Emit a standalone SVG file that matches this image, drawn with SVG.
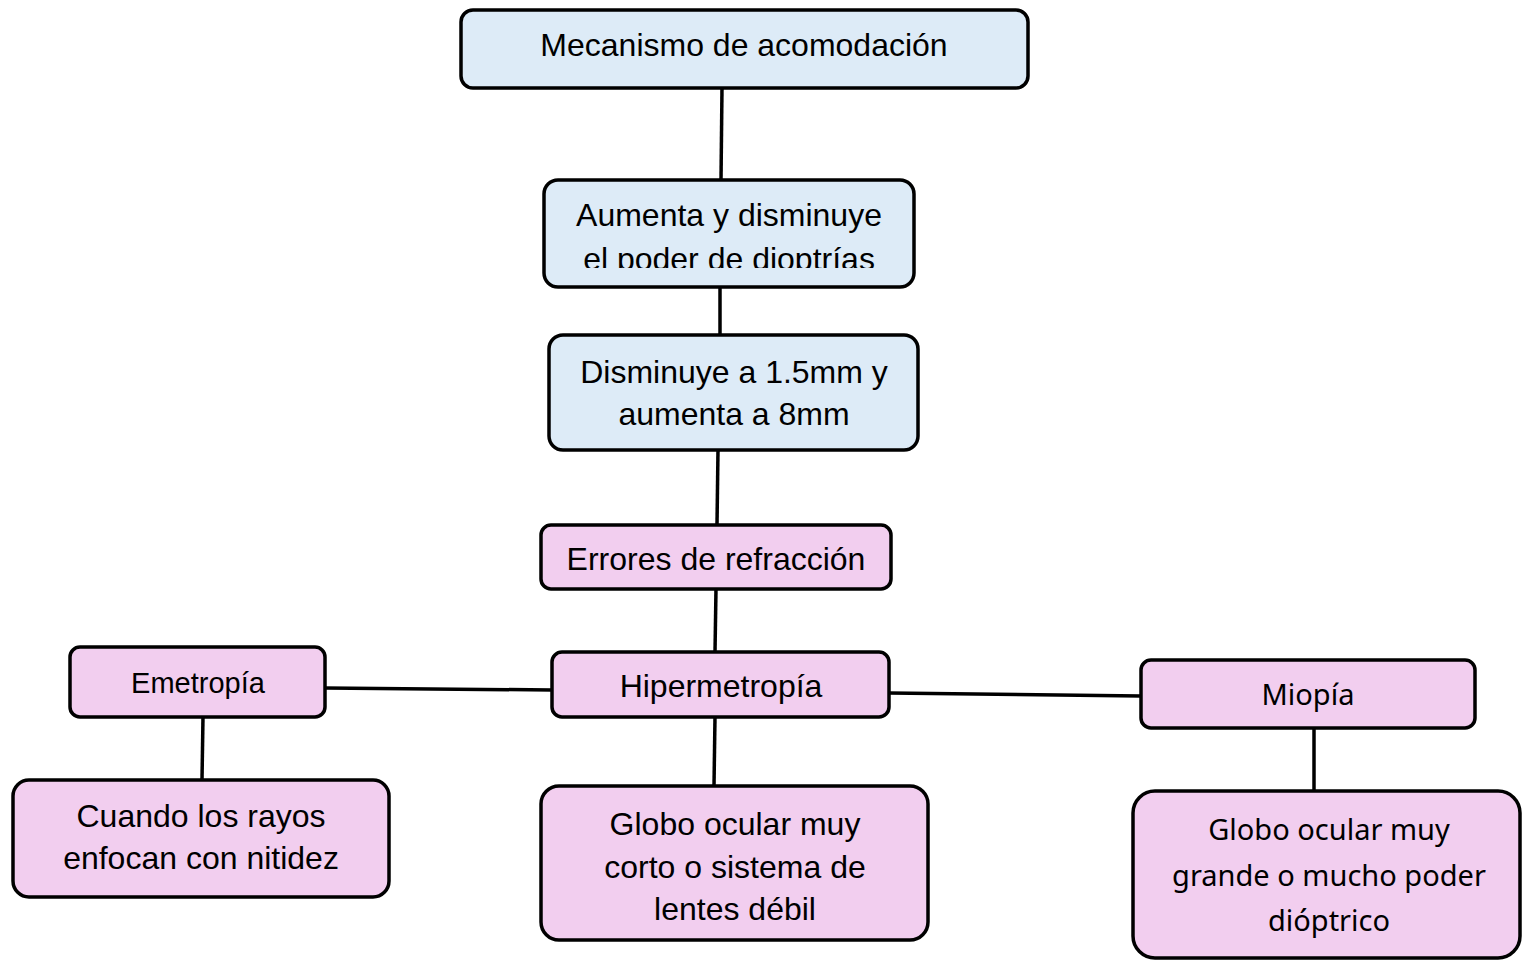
<svg xmlns="http://www.w3.org/2000/svg" width="1522" height="964" viewBox="0 0 1522 964">
<style>
.blue{fill:#DDEBF7;stroke:#000;stroke-width:3.5}
.pink{fill:#F2CEEF;stroke:#000;stroke-width:3.5}
.t{font-family:"Liberation Sans",Arial,sans-serif;font-size:32px;fill:#000;text-anchor:middle}
.s{font-family:"Liberation Sans",Arial,sans-serif;font-size:29px;fill:#000;text-anchor:middle}
.n{font-family:"Noto Sans","Open Sans",sans-serif;font-size:29px;fill:#000;text-anchor:middle}
.c{stroke:#000;stroke-width:3.5;fill:none}
</style>
<defs>
<clipPath id="clip2"><rect x="546" y="182" width="366" height="86"/></clipPath>
</defs>
<rect width="1522" height="964" fill="#fff"/>
<g id="connectors">
<line class="c" x1="722" y1="88" x2="721" y2="180"/>
<line class="c" x1="720" y1="287" x2="720" y2="335"/>
<line class="c" x1="718" y1="450" x2="717" y2="525"/>
<line class="c" x1="716" y1="589" x2="715" y2="652"/>
<line class="c" x1="325" y1="688" x2="552" y2="690"/>
<line class="c" x1="889" y1="693" x2="1141" y2="696"/>
<line class="c" x1="203" y1="717" x2="202" y2="780"/>
<line class="c" x1="715" y1="717" x2="714" y2="786"/>
<line class="c" x1="1314" y1="728" x2="1314" y2="791"/>
</g>
<g id="n1">
<rect class="blue" x="461" y="10" width="567" height="78" rx="12"/>
<text class="t" x="744" y="56">Mecanismo de acomodación</text>
</g>
<g id="n2">
<rect class="blue" x="544" y="180" width="370" height="107" rx="14"/>
<g clip-path="url(#clip2)">
<text class="t" x="729" y="226">Aumenta y disminuye</text>
<text class="t" x="729" y="270">el poder de dioptrías</text>
</g>
</g>
<g id="n3">
<rect class="blue" x="549" y="335" width="369" height="115" rx="14"/>
<text class="t" x="734" y="383">Disminuye a 1.5mm y</text>
<text class="t" x="734" y="425">aumenta a 8mm</text>
</g>
<g id="n4">
<rect class="pink" x="541" y="525" width="350" height="64" rx="10"/>
<text class="t" x="716" y="570">Errores de refracción</text>
</g>
<g id="n5">
<rect class="pink" x="552" y="652" width="337" height="65" rx="10"/>
<text class="t" x="721" y="697">Hipermetropía</text>
</g>
<g id="n6">
<rect class="pink" x="70" y="647" width="255" height="70" rx="10"/>
<text class="s" x="198" y="693">Emetropía</text>
</g>
<g id="n7">
<rect class="pink" x="1141" y="660" width="334" height="68" rx="10"/>
<text class="n" x="1308" y="705">Miopía</text>
</g>
<g id="n8">
<rect class="pink" x="13" y="780" width="376" height="117" rx="16"/>
<text class="t" x="201" y="827">Cuando los rayos</text>
<text class="t" x="201" y="869">enfocan con nitidez</text>
</g>
<g id="n9">
<rect class="pink" x="541" y="786" width="387" height="154" rx="18"/>
<text class="t" x="735" y="835">Globo ocular muy</text>
<text class="t" x="735" y="878">corto o sistema de</text>
<text class="t" x="735" y="920">lentes débil</text>
</g>
<g id="n10">
<rect class="pink" x="1133" y="791" width="387" height="167" rx="22"/>
<text class="n" x="1329" y="840">Globo ocular muy</text>
<text class="n" x="1329" y="886">grande o mucho poder</text>
<text class="n" x="1329" y="931">dióptrico</text>
</g>
</svg>
